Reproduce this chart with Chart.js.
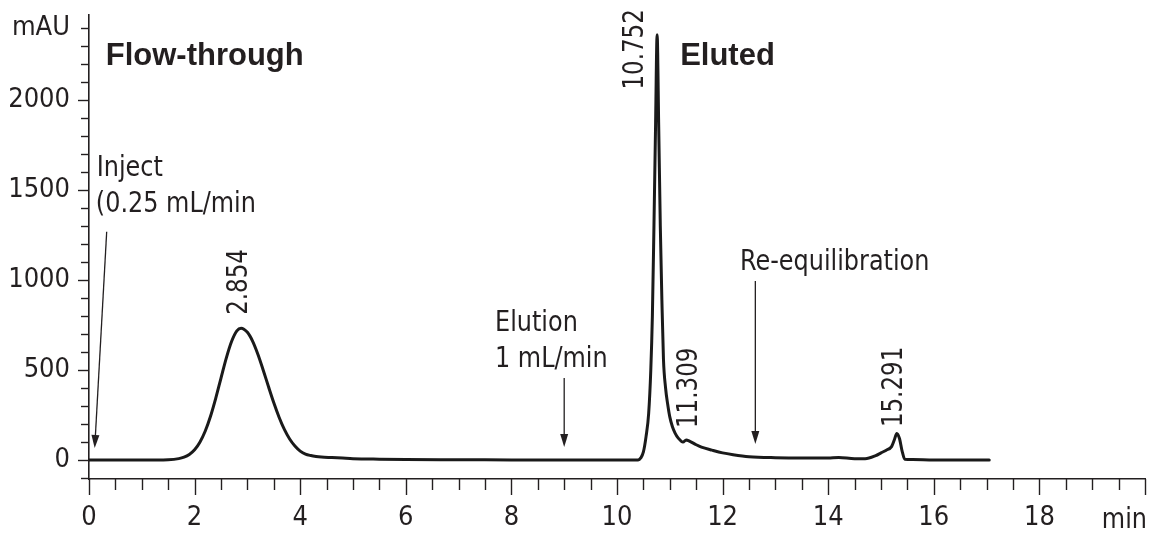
<!DOCTYPE html>
<html><head><meta charset="utf-8">
<script src="https://cdn.jsdelivr.net/npm/chart.js@4.4.0/dist/chart.umd.min.js"></script>
<style>html,body{margin:0;padding:0;background:#fff;}</style>
</head><body>
<canvas id="c" width="1151" height="536"></canvas>
<script>
const FONT = '"Liberation Sans Narrow", "DejaVu Sans Condensed", "Liberation Sans", sans-serif';
const BOLDFONT = '"Liberation Sans", Arial, sans-serif';
const INK = '#231f20';

// Chromatogram (minutes, mAU)
const times = [0, 0.5, 1.0, 1.5, 1.7, 1.8, 1.9, 2.0, 2.1, 2.2, 2.3, 2.4, 2.5, 2.6, 2.7, 2.8, 2.88, 3.0, 3.1, 3.2, 3.3, 3.4, 3.5, 3.6, 3.7, 3.8, 3.9, 4.0, 4.1, 4.2, 4.3, 4.4, 4.6, 4.8, 5.0, 5.5, 6.0, 7.0, 8.0, 9.0, 9.5, 9.6, 10.0, 10.4, 10.45, 10.5, 10.55, 10.6, 10.64, 10.67, 10.7, 10.73, 10.76, 10.79, 10.82, 10.85, 10.88, 10.92, 10.96, 11.0, 11.05, 11.1, 11.16, 11.25, 11.31, 11.38, 11.5, 11.6, 11.8, 12.0, 12.2, 12.5, 13.0, 13.5, 14.0, 14.2, 14.5, 14.7, 14.9, 15.0, 15.1, 15.2, 15.25, 15.3, 15.35, 15.4, 15.45, 15.6, 16.0, 17.05];
const absorbance = [0, 0, 0, 2, 8, 16, 31, 57, 99, 160, 242, 343, 455, 566, 658, 717, 732, 709, 659, 586, 499, 407, 318, 238, 170, 117, 78, 50, 33, 25, 20, 17, 14, 11, 8, 5, 3, 2, 1, 0, 0, 0, 0, 1, 12, 45, 130, 260, 500, 800, 1300, 1850, 2360, 1850, 1300, 890, 560, 400, 310, 240, 185, 150, 122, 100, 112, 104, 85, 72, 55, 40, 30, 19, 13, 11, 12, 15, 8, 8, 25, 40, 55, 75, 110, 148, 120, 50, 5, 3, 0, 0];

// Axes
const xMin = 0, xMax = 20, xTickStep = 0.5, xLabelStep = 2, xUnitLabel = 'min', xUnitPos = 19.61, xUnitY = -378;
const yMin = -105, yMax = 2470, yTickStep = 100, yLabelStep = 500, yUnitTick = 2400, yUnitLabel = 'mAU';

// Peak retention-time labels (rotated)
const peakLabels = ['2.854', '10.752', '11.309', '15.291'];
const peakLabelX = [2.837, 10.343, 11.366, 15.25];
const peakLabelY = [806, 2056, 178, 183];

// Notes
const noteTexts = ['Flow-through', 'Eluted', 'Inject', '(0.25 mL/min', 'Elution', '1 mL/min', 'Re-equilibration'];
const noteX = [0.317, 11.196, 0.146, 0.13, 7.69, 7.69, 12.33];
const noteY = [2194, 2194, 1574, 1379, 717, 517, 1056];
const noteBold = [true, true, false, false, false, false, false];

// Arrows
const arrowFromX = [0.335, 9.0, 12.62];
const arrowFromY = [1267, 455, 994];
const arrowToX = [0.108, 9.0, 12.62];
const arrowToY = [67, 72, 89];

const points = times.map((t, i) => ({x: t, y: absorbance[i]}));
const SQ = 0.95; // slight horizontal condensing of annotation text

const decor = {
  id: 'decor',
  afterDraw(chart) {
    const ctx = chart.ctx, xs = chart.scales.x, ys = chart.scales.y;
    const a = chart.chartArea;
    ctx.save();
    ctx.strokeStyle = INK; ctx.fillStyle = INK; ctx.lineWidth = 1.4;
    // tick marks
    xs.ticks.forEach(tk => {
      const px = Math.round(xs.getPixelForValue(tk.value)) + 0.5;
      const major = Math.abs(tk.value / xLabelStep - Math.round(tk.value / xLabelStep)) < 1e-6;
      ctx.beginPath(); ctx.moveTo(px, a.bottom); ctx.lineTo(px, a.bottom + (major ? 16 : 11)); ctx.stroke();
    });
    ys.ticks.forEach(tk => {
      const py = Math.round(ys.getPixelForValue(tk.value)) + 0.5;
      const major = tk.value % yLabelStep === 0;
      ctx.beginPath(); ctx.moveTo(a.left, py); ctx.lineTo(a.left - (major ? 11 : 8), py); ctx.stroke();
    });
    const txt = (t, x, y, font, align) => {
      ctx.save(); ctx.translate(x, y); ctx.scale(SQ, 1);
      ctx.font = font; ctx.textAlign = align; ctx.textBaseline = 'alphabetic';
      ctx.fillText(t, 0, 0); ctx.restore();
    };
    // unit label on x
    txt(xUnitLabel, xs.getPixelForValue(xUnitPos), ys.getPixelForValue(xUnitY), '28px ' + FONT, 'center');
    // notes
    noteTexts.forEach((t, i) => {
      const f = noteBold[i] ? 'bold 31px ' + BOLDFONT : '28px ' + FONT;
      if (noteBold[i]) {
        ctx.font = f; ctx.textAlign = 'left'; ctx.textBaseline = 'alphabetic';
        ctx.fillText(t, xs.getPixelForValue(noteX[i]), ys.getPixelForValue(noteY[i]));
      } else {
        txt(t, xs.getPixelForValue(noteX[i]), ys.getPixelForValue(noteY[i]), f, 'left');
      }
    });
    // peak labels
    peakLabels.forEach((t, i) => {
      ctx.save();
      ctx.translate(xs.getPixelForValue(peakLabelX[i]), ys.getPixelForValue(peakLabelY[i]));
      ctx.rotate(-Math.PI / 2);
      ctx.scale(SQ * 0.96, 1);
      ctx.font = '28px ' + FONT; ctx.textAlign = 'left'; ctx.textBaseline = 'middle';
      ctx.fillText(t, 0, 1);
      ctx.restore();
    });
    // arrows
    ctx.lineWidth = 1.3;
    arrowFromX.forEach((fx, i) => {
      const x1 = xs.getPixelForValue(fx), y1 = ys.getPixelForValue(arrowFromY[i]);
      const x2 = xs.getPixelForValue(arrowToX[i]), y2 = ys.getPixelForValue(arrowToY[i]);
      const ang = Math.atan2(y2 - y1, x2 - x1);
      const L = 13, W = 4;
      const bx = x2 - L * Math.cos(ang), by = y2 - L * Math.sin(ang);
      ctx.beginPath(); ctx.moveTo(x1, y1); ctx.lineTo(bx, by); ctx.stroke();
      ctx.beginPath();
      ctx.moveTo(x2, y2);
      ctx.lineTo(bx + W * Math.sin(ang), by - W * Math.cos(ang));
      ctx.lineTo(bx - W * Math.sin(ang), by + W * Math.cos(ang));
      ctx.closePath(); ctx.fill();
    });
    ctx.restore();
  }
};

new Chart(document.getElementById('c'), {
  type: 'line',
  data: { datasets: [{
    data: points, borderColor: '#1a1a1a', borderWidth: 3, pointRadius: 0,
    cubicInterpolationMode: 'monotone', borderJoinStyle: 'round', borderCapStyle: 'round', fill: false
  }]},
  options: {
    responsive: false, animation: false, devicePixelRatio: 1,
    layout: { padding: { top: 15, right: 6, left: 0, bottom: 0 } },
    plugins: { legend: { display: false }, tooltip: { enabled: false } },
    scales: {
      x: {
        type: 'linear', min: xMin, max: xMax,
        afterFit(s) { s.height = 57; s.paddingLeft = 0; s.paddingRight = 0; },
        border: { display: true, color: INK, width: 1.4 },
        grid: { drawOnChartArea: false, drawTicks: true, tickLength: 16, tickColor: 'rgba(0,0,0,0)' },
        ticks: {
          stepSize: xTickStep, autoSkip: false, maxRotation: 0, padding: 7, color: INK,
          font: { family: FONT, size: 27 },
          callback: v => (Math.abs(v / xLabelStep - Math.round(v / xLabelStep)) < 1e-6 && v < xMax) ? String(v) : ''
        }
      },
      y: {
        type: 'linear', min: yMin, max: yMax,
        afterFit(s) { s.width = 89; s.paddingTop = 0; s.paddingBottom = 0; },
        border: { display: true, color: INK, width: 1.6 },
        grid: { drawOnChartArea: false, drawTicks: true, tickLength: 11, tickColor: 'rgba(0,0,0,0)' },
        ticks: {
          stepSize: yTickStep, includeBounds: false, autoSkip: false, padding: 8, color: INK,
          font: { family: FONT, size: 27 },
          callback: v => v === yUnitTick ? yUnitLabel : (v % yLabelStep === 0 && v >= 0 ? String(v) : '')
        }
      }
    }
  },
  plugins: [decor]
});
</script>
</body></html>
